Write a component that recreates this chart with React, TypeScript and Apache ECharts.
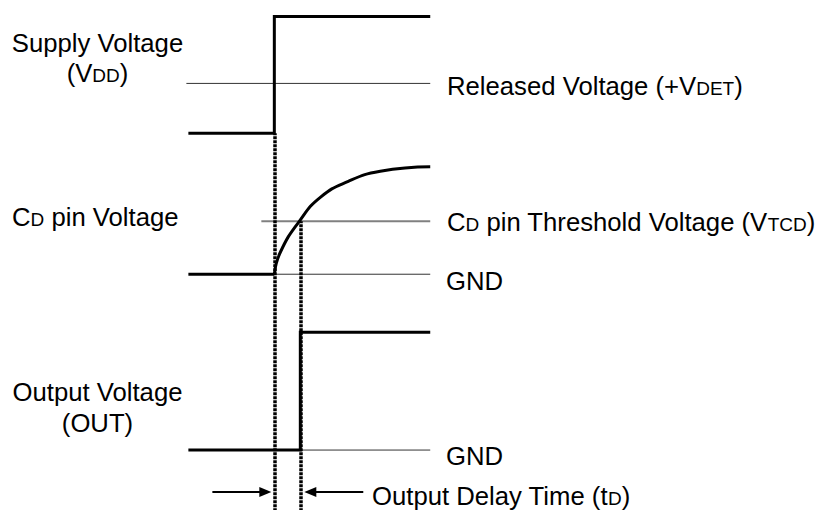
import React, { useEffect, useRef } from "react";
import * as echarts from "echarts";

// Diagram traces (x, y in diagram units; y grows downward)
const supplyX = [188, 274, 274, 430];
const supplyY = [133, 133, 16, 16];
const cdLowX = [188, 274];
const cdLowY = [274, 274];
const cdCurveX = [274, 280, 299, 320, 348, 380, 430];
const cdCurveY = [274, 252, 221, 197, 181, 171, 166.5];
const outX = [188, 300, 300, 430];
const outY = [450, 450, 332, 332];

// Thin reference levels: [xStart, xEnd, y]
const releasedLevel = [186, 430, 83];
const thresholdLevel = [261, 430, 221];
const cdGndLevel = [274, 430, 274];
const outGndLevel = [300, 430, 450];

// Dotted time markers: [x, yStart, yEnd]
const marker1 = [274, 133, 510];
const marker2 = [300, 221, 510];

// Delay arrows: [xTail, xHead, y]
const arrowLeft = [212, 265, 492];
const arrowRight = [363, 310, 492];

// Labels (rich text)
const labelSupply = ["Supply Voltage", "(V{s|DD})"];
const labelCd = "C{s|D} pin Voltage";
const labelOut = ["Output Voltage", "(OUT)"];
const labelReleased = "Released Voltage (+V{s|DET})";
const labelThreshold = "C{s|D} pin Threshold Voltage (V{s|TCD})";
const labelGnd = "GND";
const labelDelay = "Output Delay Time (t{s|D})";

const FONT = '"Liberation Sans", Arial, Helvetica, sans-serif';
const BIG = 25.7;
const SMALL = 19;
const K = 0.693;

function pairs(xs: number[], ys: number[]) {
  return xs.map((x, i) => [x, ys[i]]);
}

function txt(text: string, x: number, baseline: number, align: string) {
  return {
    type: "text",
    x,
    y: baseline,
    silent: true,
    style: {
      text: "{m|" + text.replace(/\{s\|([^}]*)\}/g, "}{s|$1}{m|") + "}",
      align,
      verticalAlign: "bottom",
      rich: {
        m: { fontSize: BIG, fontFamily: FONT, fill: "#000", lineHeight: BIG * K, height: BIG * K, verticalAlign: "bottom" },
        s: { fontSize: SMALL, fontFamily: FONT, fill: "#000", lineHeight: SMALL * K, height: SMALL * K, verticalAlign: "bottom" },
      },
    },
  };
}

export default function App() {
  const ref = useRef<HTMLDivElement>(null);
  useEffect(() => {
    document.body.style.margin = "0";
    const chart = echarts.init(ref.current!, null, { renderer: "svg" });
    const thick = { color: "#000", width: 3, join: "miter", cap: "butt" };
    const thin = { color: "#333", width: 1 };
    const thinGray = { color: "#808080", width: 2 };
    const lineSeries = (data: number[][], style: any, extra: any = {}) => ({
      type: "line",
      data,
      symbol: "none",
      silent: true,
      clip: false,
      lineStyle: style,
      ...extra,
    });
    const level = (l: number[]) => [[l[0], l[2]], [l[1], l[2]]];
    const markerLine = (m: number[]) => [{ coord: [m[0], m[1]] }, { coord: [m[0], m[2]] }];
    chart.setOption({
      animation: false,
      backgroundColor: "#fff",
      grid: { left: 0.5, right: -0.5, top: 0.5, bottom: -0.5, containLabel: false },
      xAxis: { type: "value", min: 0, max: 819, show: false },
      yAxis: { type: "value", min: 0, max: 510, inverse: true, show: false },
      series: [
        lineSeries(level(releasedLevel), thin),
        lineSeries(level(thresholdLevel), thinGray),
        lineSeries(level(cdGndLevel), thin),
        lineSeries(level(outGndLevel), thin),
        {
          type: "line",
          data: [],
          silent: true,
          markLine: {
            silent: true,
            symbol: ["none", "none"],
            label: { show: false },
            lineStyle: { color: "#000", width: 3.5, type: [3, 1], dashOffset: 0.5, cap: "butt" },
            emphasis: { disabled: true },
            data: [markerLine(marker1), markerLine(marker2)],
          },
        },
        lineSeries(pairs(supplyX, supplyY), thick),
        lineSeries(pairs(cdLowX, cdLowY), thick),
        lineSeries(pairs(cdCurveX, cdCurveY), thick, { smooth: 0.5 }),
        lineSeries(pairs(outX, outY), thick),
        {
          type: "line",
          data: [],
          silent: true,
          markLine: {
            silent: true,
            symbol: ["none", "triangle"],
            symbolSize: [10, 12],
            label: { show: false },
            lineStyle: { color: "#000", width: 2.2, type: "solid" },
            emphasis: { disabled: true },
            data: [
              [{ coord: [arrowLeft[0], arrowLeft[2]] }, { coord: [arrowLeft[1], arrowLeft[2]] }],
              [{ coord: [arrowRight[0], arrowRight[2]] }, { coord: [arrowRight[1], arrowRight[2]] }],
            ],
          },
        },
      ],
      graphic: [
        txt(labelSupply[0], 97.5, 52, "center"),
        txt(labelSupply[1], 97.5, 82, "center"),
        txt(labelCd, 12, 226, "left"),
        txt(labelOut[0], 97.5, 401, "center"),
        txt(labelOut[1], 97.5, 432, "center"),
        txt(labelReleased, 447, 95, "left"),
        txt(labelThreshold, 447, 231, "left"),
        txt(labelGnd, 446, 290, "left"),
        txt(labelGnd, 446, 465, "left"),
        txt(labelDelay, 372, 505, "left"),
      ],
    });
    return () => chart.dispose();
  }, []);
  return <div ref={ref} style={{ width: 819, height: 510 }} />;
}
